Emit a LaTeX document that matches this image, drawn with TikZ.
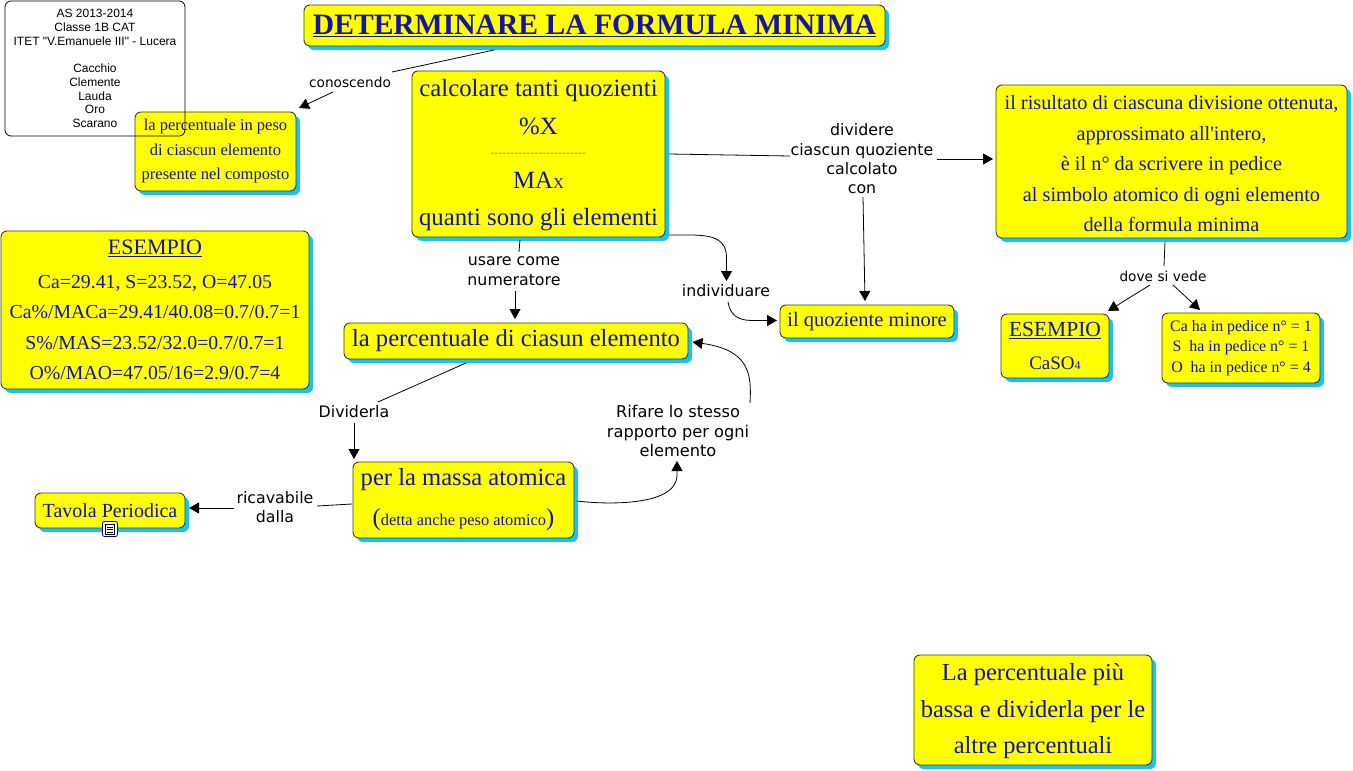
\documentclass[tikz,border=0pt]{standalone}
\usepackage{fontspec}
\setmainfont{Liberation Serif}[Ligatures=TeXOff]
\newfontfamily\lblfont{DejaVu Sans}
\newfontfamily\notefont{Liberation Sans}
\usetikzlibrary{shadows,arrows.meta,calc}
\definecolor{boxtxt}{RGB}{20,20,170}
\definecolor{shad}{RGB}{20,195,250}
\definecolor{edgec}{RGB}{50,60,70}
\definecolor{byel}{RGB}{255,255,0}
\definecolor{dashc}{RGB}{150,150,90}
\newcommand{\fs}[2]{\fontsize{#1}{#2}\selectfont}
\tikzset{x=1pt,y=-1pt,
 cbox/.style={draw=edgec,line width=0.9pt,fill=byel,rounded corners=6pt,text=boxtxt,align=center,inner sep=0pt,
   drop shadow={shadow xshift=4pt,shadow yshift=-4pt,fill=shad,opacity=1}},
 lbl/.style={font=\lblfont\fs{15.8}{19.4},align=center,inner sep=0pt,text=black},
 smalllbl/.style={lbl,font=\lblfont\fs{13.7}{18}},
 conn/.style={draw=black,line width=0.8pt},
 arr/.style={conn,-{Triangle[length=10pt,width=11pt]}}}
\begin{document}
\begin{tikzpicture}
\useasboundingbox (0,0) rectangle (1353,771);
% boxes
\node[cbox,minimum width=581pt,minimum height=41pt,font=\bfseries\fs{29.6}{36}] (title) at (594.5,25.5) {\underline{DETERMINARE LA FORMULA MINIMA}};
\node[cbox,minimum width=161pt,minimum height=79pt,font=\fs{16.5}{24.5}] (perc) at (215.5,151.5) {la percentuale in peso\\di ciascun elemento\\presente nel composto};
\node[cbox,minimum width=253pt,minimum height=166pt,font=\fs{24.8}{37}] (calc) at (538.5,154) {\rule{0pt}{20pt}calcolare tanti quozienti\\[1pt]\%X\\[-15pt]{\color{dashc}\fs{12}{12}------------------------}\\[-5pt]MA{\fs{15}{15}X}\\quanti sono gli elementi};
\node[cbox,minimum width=351pt,minimum height=153pt,font=\fs{20.3}{30.5}] (ris) at (1171.5,161.5) {\rule{0pt}{19pt}il risultato di ciascuna divisione ottenuta,\\approssimato all'intero,\\è il n° da scrivere in pedice\\al simbolo atomico di ogni elemento\\della formula minima};
\node[cbox,minimum width=308pt,minimum height=158pt,font=\fs{19.8}{30.5}] (es1) at (155,310) {{\fs{22}{30.5}\underline{ESEMPIO}}\\[3pt]Ca=29.41, S=23.52, O=47.05\\Ca\%/MACa=29.41/40.08=0.7/0.7=1\\S\%/MAS=23.52/32.0=0.7/0.7=1\\O\%/MAO=47.05/16=2.9/0.7=4};
\node[cbox,minimum width=344pt,minimum height=36pt,font=\fs{24.6}{28}] (lap) at (516,341) {la percentuale di ciasun elemento};
\node[cbox,minimum width=174pt,minimum height=33pt,font=\fs{20.5}{24}] (qmin) at (867,321.5) {il quoziente minore};
\node[cbox,minimum width=108pt,minimum height=64pt,font=\fs{19}{33}] (es2) at (1055,346) {{\fs{21.5}{33}\underline{ESEMPIO}}\\CaSO{\fs{12}{12}4}};
\node[cbox,minimum width=158pt,minimum height=70pt,font=\fs{15.9}{20.5}] (cah) at (1241,348) {Ca ha in pedice n° = 1\\S\ \ ha in pedice n° = 1\\O\ \ ha in pedice n° = 4};
\node[cbox,minimum width=221pt,minimum height=76pt,font=\fs{24.6}{40}] (massa) at (463.5,500) {per la massa atomica\\({\fs{16.4}{16}detta anche peso atomico})};
\node[cbox,minimum width=150pt,minimum height=35pt,font=\fs{20}{24}] (tav) at (110,510.5) {Tavola Periodica};
\node[cbox,minimum width=238pt,minimum height=110pt,font=\fs{24.5}{36.5}] (bot) at (1033,710) {\rule{0pt}{20pt}La percentuale più\\bassa e dividerla per le\\altre percentuali};
% note box (its outline runs over the next box)
\node[draw=black,line width=0.8pt,rounded corners=6pt,minimum width=180pt,minimum height=135pt,inner sep=0pt,align=center,font=\notefont\fs{12}{13.7}] (note) at (95,68.5)
 {AS 2013-2014\\Classe 1B CAT\\ITET "V.Emanuele III" - Lucera\\[13.7pt]Cacchio\\Clemente\\Lauda\\Oro\\Scarano};
% icon
\node[draw=blue!70!black,line width=0.8pt,fill=white,rounded corners=2pt,minimum size=15pt,inner sep=0pt] (icon) at (110,529) {};
\draw[black,line width=0.7pt] (105.5,524.5) rectangle (114.5,534);
\foreach \yy in {527,529.5,532} \draw[black,line width=0.6pt] (107,\yy) -- (113,\yy);
% labels
\node[smalllbl] (l1) at (350,82) {conoscendo};
\node[lbl] (l2) at (514,271) {usare come\\numeratore};
\node[lbl] (l3) at (862,159) {dividere\\ciascun quoziente\\calcolato\\con};
\node[lbl] (l4) at (726,291) {individuare};
\node[smalllbl] (l5) at (1163,276) {dove si vede};
\node[lbl] (l6) at (354,412) {Dividerla};
\node[lbl] (l7) at (275,507) {ricavabile\\dalla};
\node[lbl,font=\lblfont\fs{16.2}{19.4}] (l8) at (678,431) {Rifare lo stesso\\rapporto per ogni\\elemento};
% connector ends
\coordinate (c1a) at (494,50); \coordinate (c1b) at (392,72); \coordinate (c1c) at (333,92); \coordinate (c1d) at (299,108);
\coordinate (c2a) at (520,240); \coordinate (c2b) at (519,252); \coordinate (c2c) at (515,291); \coordinate (c2d) at (515,319);
\coordinate (c3a) at (669,154); \coordinate (c3b) at (790,156); \coordinate (c3c) at (937,159); \coordinate (c3d) at (993,159);
\coordinate (c3e) at (863,197); \coordinate (c3f) at (865,301);
\coordinate (c4a) at (669,235); \coordinate (c4b) at (726.5,281); \coordinate (c4c) at (728,302); \coordinate (c4d) at (777,320.5);
\coordinate (c5a) at (1165,242); \coordinate (c5b) at (1164,266); \coordinate (c5c) at (1150,285); \coordinate (c5d) at (1108,311); \coordinate (c5e) at (1173,285); \coordinate (c5f) at (1200,310);
\coordinate (c6a) at (466,363); \coordinate (c6b) at (378,402); \coordinate (c6c) at (354,423); \coordinate (c6d) at (354,459);
\coordinate (c7a) at (352,504); \coordinate (c7b) at (317,506); \coordinate (c7c) at (234,508); \coordinate (c7d) at (189,508);
\coordinate (c8a) at (577,501); \coordinate (c8b) at (677,461); \coordinate (c8c) at (750,403); \coordinate (c8d) at (692.5,342);
% connectors
\draw[conn] (c1a) -- (c1b); \draw[arr] (c1c) -- (c1d);
\draw[conn] (c2a) -- (c2b); \draw[arr] (c2c) -- (c2d);
\draw[conn] (c3a) -- (c3b); \draw[arr] (c3c) -- (c3d); \draw[arr] (c3e) -- (c3f);
\draw[arr] (c4a) -- (690,235) .. controls (715,235) and (726.5,240) .. (726.5,258) -- (c4b);
\draw[arr] (c4c) .. controls (730,315) and (738,320.5) .. (752,320.5) -- (c4d);
\draw[conn] (c5a) -- (c5b); \draw[arr] (c5c) -- (c5d); \draw[arr] (c5e) -- (c5f);
\draw[conn] (c6a) -- (c6b); \draw[arr] (c6c) -- (c6d);
\draw[conn] (c7a) -- (c7b); \draw[arr] (c7c) -- (c7d);
\draw[arr] (c8a) .. controls (600,504) and (677,508) .. (677,475) -- (c8b);
\draw[arr] (c8c) .. controls (752,372) and (748,350) .. (c8d);
\end{tikzpicture}
\end{document}
